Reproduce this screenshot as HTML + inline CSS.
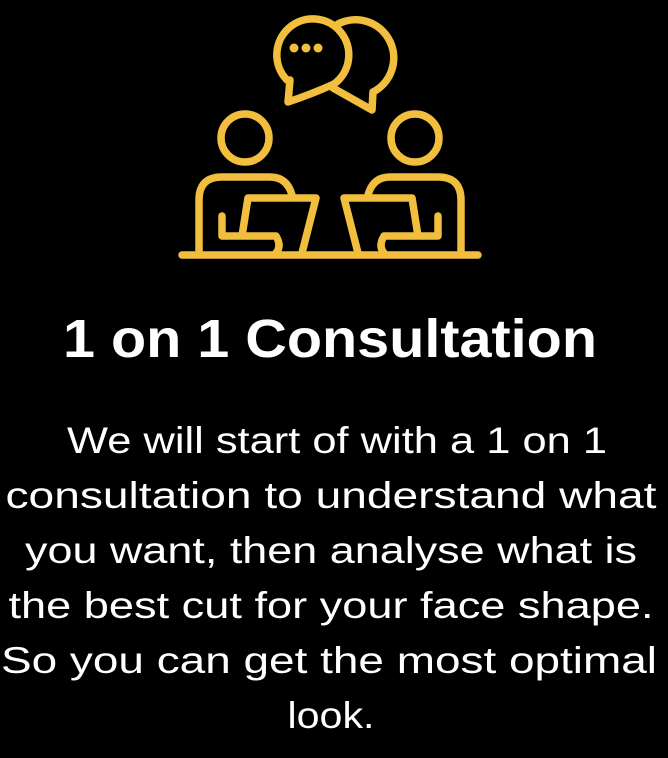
<!DOCTYPE html>
<html><head><meta charset="utf-8"><style>
html,body{margin:0;padding:0;background:#000;}
svg{display:block}
</style></head><body>
<svg width="668" height="758" viewBox="0 0 668 758">
<rect width="668" height="758" fill="#000"/>
<g fill="none" stroke="#F2BE3E" stroke-width="7.5" stroke-linejoin="round" stroke-linecap="round">
  <path d="M338 24 A33 33 0 1 1 373 92 L372 110 L333 88"/>
  <path d="M287 80 A36 36 0 1 1 334 84 Q312 94 288 102 L290 80"/>
  <circle cx="294" cy="48" r="4.5" fill="#F2BE3E" stroke="none"/>
  <circle cx="306" cy="48" r="4.5" fill="#F2BE3E" stroke="none"/>
  <circle cx="318" cy="48" r="4.5" fill="#F2BE3E" stroke="none"/>
  <circle cx="245" cy="138" r="24"/>
  <circle cx="415" cy="138" r="24"/>
  <path d="M199 252 L199 200 Q199 177 222 177 L270 177 Q287 177 292 195"/>
  <path d="M461 252 L461 200 Q461 177 438 177 L390 177 Q373 177 368 195"/>
  <path d="M302 253 L316 198 L248 198 L242 236 M222 216 L222 236 L276 236 Q282 246 276 253"/>
  <path d="M358 253 L344 198 L412 198 L418 236 M438 216 L438 236 L384 236 Q378 246 384 253"/>
  <line x1="182" y1="255" x2="478" y2="255"/>
</g>
<text x="330" y="357" text-anchor="middle" font-family="Liberation Sans, sans-serif" font-weight="bold" font-size="54" fill="#fff" textLength="534" lengthAdjust="spacingAndGlyphs">1 on 1 Consultation</text>
<g font-family="Liberation Sans, sans-serif" font-size="37" fill="#fff" text-anchor="middle">
  <text x="337" y="453" textLength="540" lengthAdjust="spacingAndGlyphs">We will start of with a 1 on 1</text>
  <text x="331" y="508" textLength="651" lengthAdjust="spacingAndGlyphs">consultation to understand what</text>
  <text x="331" y="563" textLength="612" lengthAdjust="spacingAndGlyphs">you want, then analyse what is</text>
  <text x="331" y="618" textLength="645" lengthAdjust="spacingAndGlyphs">the best cut for your face shape.</text>
  <text x="329" y="673" textLength="656" lengthAdjust="spacingAndGlyphs">So you can get the most optimal</text>
  <text x="331" y="728" textLength="87" lengthAdjust="spacingAndGlyphs">look.</text>
</g>
</svg>
</body></html>
